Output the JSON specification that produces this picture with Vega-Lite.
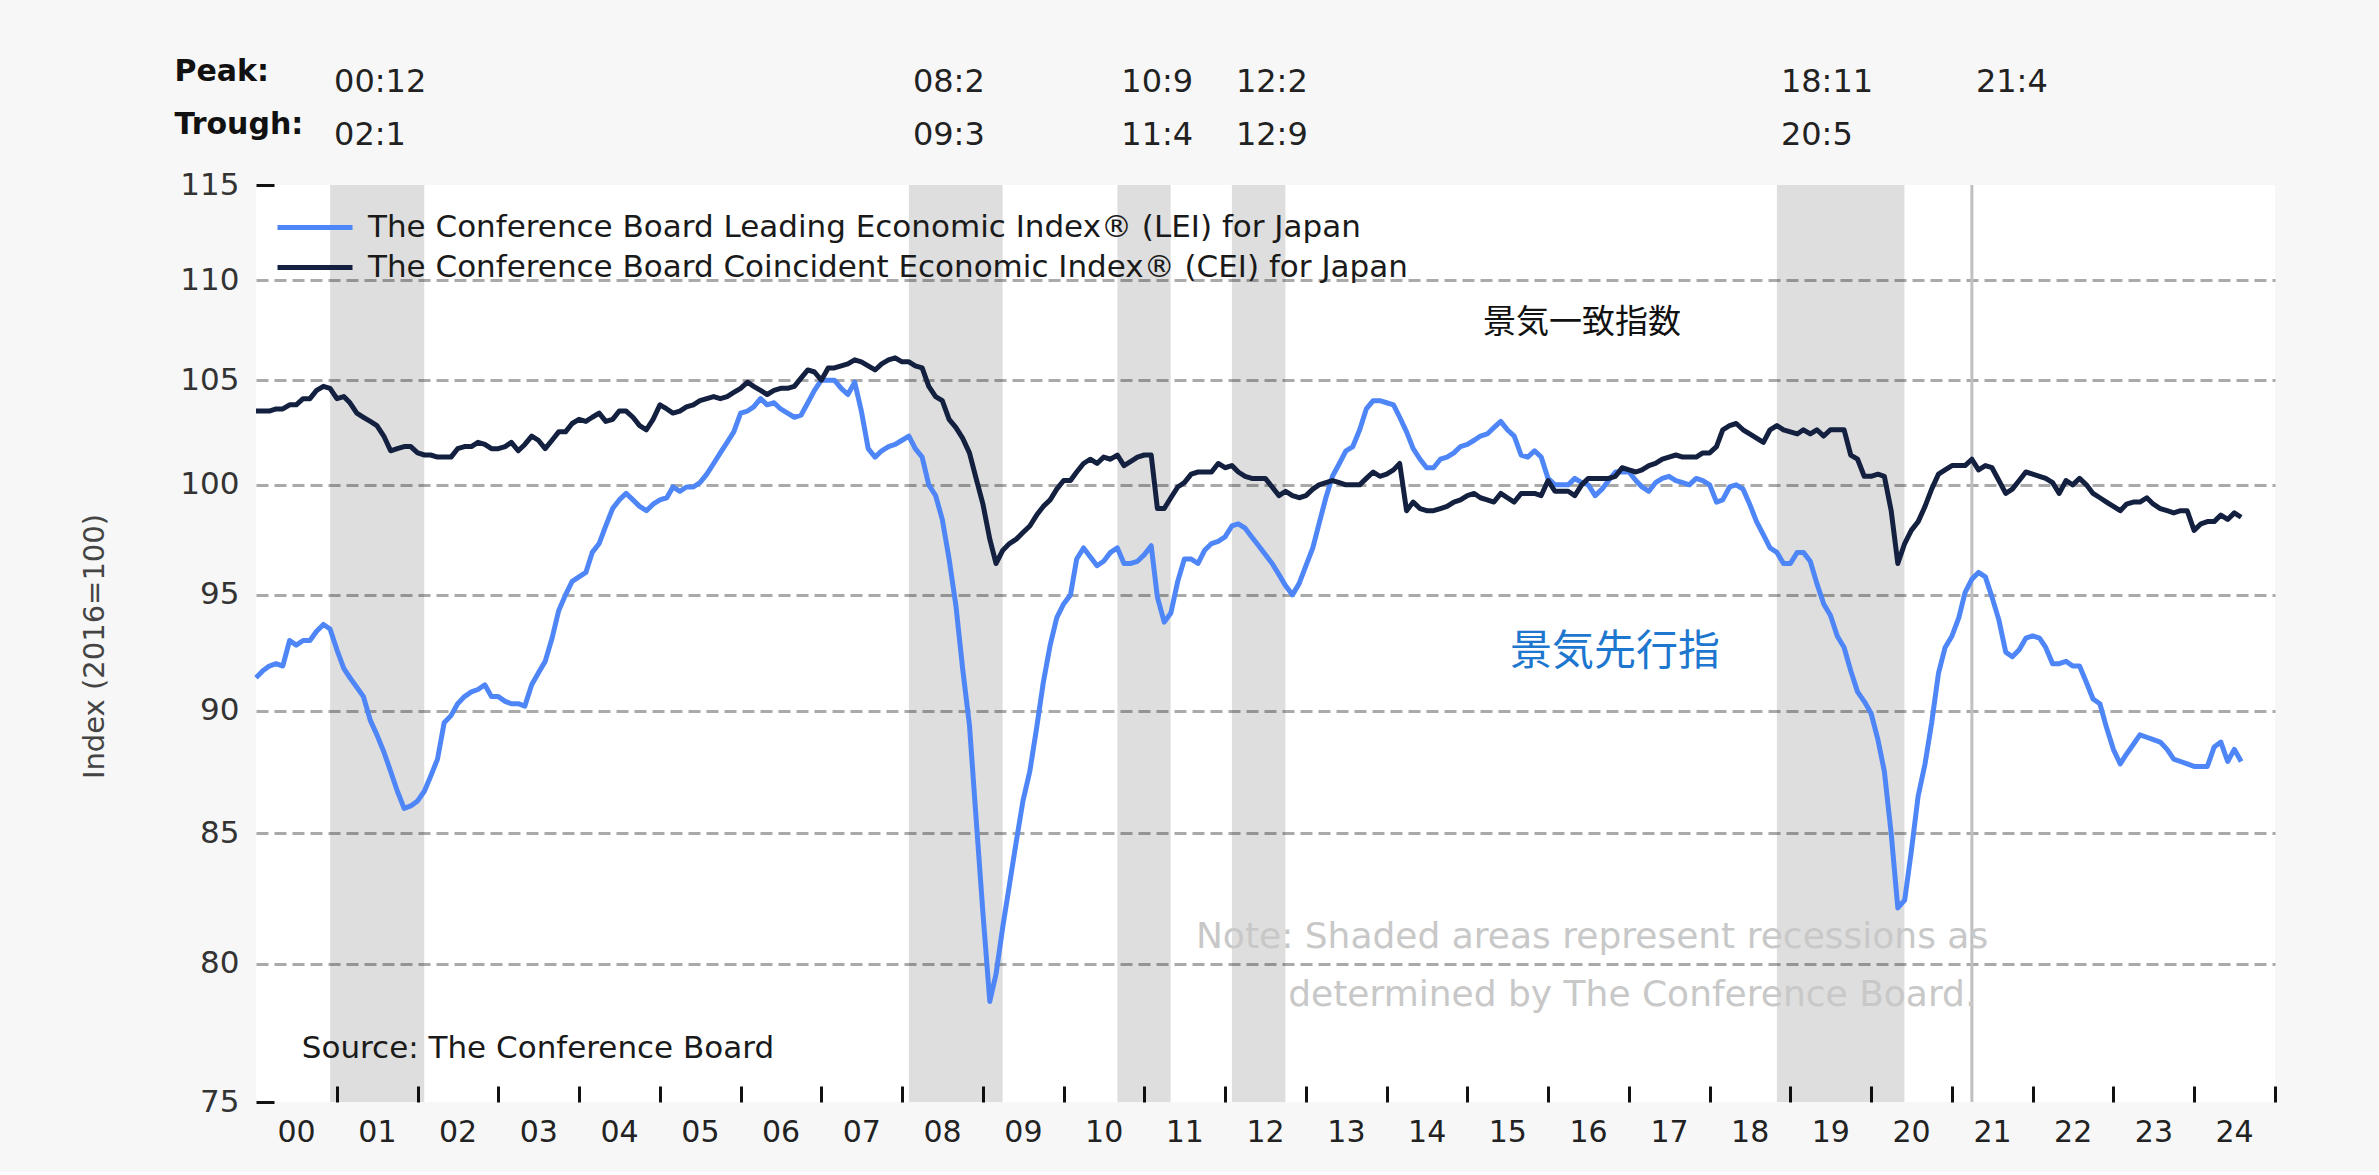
{
  "$schema": "https://vega.github.io/schema/vega-lite/v6.json",
  "background": "#f7f7f7",
  "padding": {"left": 80, "top": 55, "right": 104, "bottom": 25},
  "bounds": "flush",
  "spacing": 24,
  "config": {"font": "DejaVu Sans", "view": {"stroke": null}},
  "datasets": {
    "recessions": [
      {"peak": "2000-12-01", "end": "2002-01-31", "Peak:": "00:12", "Trough:": "02:1"},
      {"peak": "2008-02-01", "end": "2009-03-31", "Peak:": "08:2", "Trough:": "09:3"},
      {"peak": "2010-09-01", "end": "2011-04-30", "Peak:": "10:9", "Trough:": "11:4"},
      {"peak": "2012-02-01", "end": "2012-09-30", "Peak:": "12:2", "Trough:": "12:9"},
      {"peak": "2018-11-01", "end": "2020-05-31", "Peak:": "18:11", "Trough:": "20:5"},
      {"peak": "2021-04-01", "Peak:": "21:4"}
    ],
    "notes": [
      {"k": "cei", "d": "2015-03-13", "v": 107.84, "t": "景気一致指数"},
      {"k": "lei", "d": "2015-07-13", "v": 92.5, "t": "景気先行指"},
      {"k": "src", "d": "2000-07-26", "v": 76.88, "t": "Source: The Conference Board"},
      {"k": "note", "d": "2016-07-18", "v": 81.01, "t": "Note: Shaded areas represent recessions as"},
      {"k": "note", "d": "2017-01-16", "v": 78.84, "t": "determined by The Conference Board."}
    ],
    "indexes": [
      {"d":"2000-01","LEI":91.4,"CEI":103.5},{"d":"2000-02","LEI":91.7,"CEI":103.5},{"d":"2000-03","LEI":91.9,"CEI":103.5},{"d":"2000-04","LEI":92.0,"CEI":103.6},{"d":"2000-05","LEI":91.9,"CEI":103.6},{"d":"2000-06","LEI":93.0,"CEI":103.8},{"d":"2000-07","LEI":92.8,"CEI":103.8},{"d":"2000-08","LEI":93.0,"CEI":104.1},{"d":"2000-09","LEI":93.0,"CEI":104.1},{"d":"2000-10","LEI":93.4,"CEI":104.5},{"d":"2000-11","LEI":93.7,"CEI":104.7},{"d":"2000-12","LEI":93.5,"CEI":104.6},
      {"d":"2001-01","LEI":92.6,"CEI":104.1},{"d":"2001-02","LEI":91.8,"CEI":104.2},{"d":"2001-03","LEI":91.4,"CEI":103.9},{"d":"2001-04","LEI":91.0,"CEI":103.4},{"d":"2001-05","LEI":90.6,"CEI":103.2},{"d":"2001-06","LEI":89.6,"CEI":103.0},{"d":"2001-07","LEI":89.0,"CEI":102.8},{"d":"2001-08","LEI":88.3,"CEI":102.3},{"d":"2001-09","LEI":87.5,"CEI":101.6},{"d":"2001-10","LEI":86.7,"CEI":101.7},{"d":"2001-11","LEI":86.0,"CEI":101.8},{"d":"2001-12","LEI":86.1,"CEI":101.8},
      {"d":"2002-01","LEI":86.3,"CEI":101.5},{"d":"2002-02","LEI":86.7,"CEI":101.4},{"d":"2002-03","LEI":87.3,"CEI":101.4},{"d":"2002-04","LEI":88.0,"CEI":101.3},{"d":"2002-05","LEI":89.5,"CEI":101.3},{"d":"2002-06","LEI":89.8,"CEI":101.3},{"d":"2002-07","LEI":90.3,"CEI":101.7},{"d":"2002-08","LEI":90.6,"CEI":101.8},{"d":"2002-09","LEI":90.8,"CEI":101.8},{"d":"2002-10","LEI":90.9,"CEI":102.0},{"d":"2002-11","LEI":91.1,"CEI":101.9},{"d":"2002-12","LEI":90.6,"CEI":101.7},
      {"d":"2003-01","LEI":90.6,"CEI":101.7},{"d":"2003-02","LEI":90.4,"CEI":101.8},{"d":"2003-03","LEI":90.3,"CEI":102.0},{"d":"2003-04","LEI":90.3,"CEI":101.6},{"d":"2003-05","LEI":90.2,"CEI":101.9},{"d":"2003-06","LEI":91.1,"CEI":102.3},{"d":"2003-07","LEI":91.6,"CEI":102.1},{"d":"2003-08","LEI":92.1,"CEI":101.7},{"d":"2003-09","LEI":93.1,"CEI":102.1},{"d":"2003-10","LEI":94.3,"CEI":102.5},{"d":"2003-11","LEI":95.0,"CEI":102.5},{"d":"2003-12","LEI":95.6,"CEI":102.9},
      {"d":"2004-01","LEI":95.8,"CEI":103.1},{"d":"2004-02","LEI":96.0,"CEI":103.0},{"d":"2004-03","LEI":96.9,"CEI":103.2},{"d":"2004-04","LEI":97.3,"CEI":103.4},{"d":"2004-05","LEI":98.1,"CEI":103.0},{"d":"2004-06","LEI":98.9,"CEI":103.1},{"d":"2004-07","LEI":99.3,"CEI":103.5},{"d":"2004-08","LEI":99.6,"CEI":103.5},{"d":"2004-09","LEI":99.3,"CEI":103.2},{"d":"2004-10","LEI":99.0,"CEI":102.8},{"d":"2004-11","LEI":98.8,"CEI":102.6},{"d":"2004-12","LEI":99.1,"CEI":103.1},
      {"d":"2005-01","LEI":99.3,"CEI":103.8},{"d":"2005-02","LEI":99.4,"CEI":103.6},{"d":"2005-03","LEI":99.9,"CEI":103.4},{"d":"2005-04","LEI":99.7,"CEI":103.5},{"d":"2005-05","LEI":99.9,"CEI":103.7},{"d":"2005-06","LEI":99.9,"CEI":103.8},{"d":"2005-07","LEI":100.1,"CEI":104.0},{"d":"2005-08","LEI":100.5,"CEI":104.1},{"d":"2005-09","LEI":101.0,"CEI":104.2},{"d":"2005-10","LEI":101.5,"CEI":104.1},{"d":"2005-11","LEI":102.0,"CEI":104.2},{"d":"2005-12","LEI":102.5,"CEI":104.4},
      {"d":"2006-01","LEI":103.4,"CEI":104.6},{"d":"2006-02","LEI":103.5,"CEI":104.9},{"d":"2006-03","LEI":103.7,"CEI":104.7},{"d":"2006-04","LEI":104.1,"CEI":104.5},{"d":"2006-05","LEI":103.8,"CEI":104.3},{"d":"2006-06","LEI":103.9,"CEI":104.5},{"d":"2006-07","LEI":103.6,"CEI":104.6},{"d":"2006-08","LEI":103.4,"CEI":104.6},{"d":"2006-09","LEI":103.2,"CEI":104.7},{"d":"2006-10","LEI":103.3,"CEI":105.1},{"d":"2006-11","LEI":103.9,"CEI":105.5},{"d":"2006-12","LEI":104.5,"CEI":105.4},
      {"d":"2007-01","LEI":105.0,"CEI":105.0},{"d":"2007-02","LEI":105.0,"CEI":105.6},{"d":"2007-03","LEI":105.0,"CEI":105.6},{"d":"2007-04","LEI":104.6,"CEI":105.7},{"d":"2007-05","LEI":104.3,"CEI":105.8},{"d":"2007-06","LEI":104.9,"CEI":106.0},{"d":"2007-07","LEI":103.5,"CEI":105.9},{"d":"2007-08","LEI":101.7,"CEI":105.7},{"d":"2007-09","LEI":101.3,"CEI":105.5},{"d":"2007-10","LEI":101.6,"CEI":105.8},{"d":"2007-11","LEI":101.8,"CEI":106.0},{"d":"2007-12","LEI":101.9,"CEI":106.1},
      {"d":"2008-01","LEI":102.1,"CEI":105.9},{"d":"2008-02","LEI":102.3,"CEI":105.9},{"d":"2008-03","LEI":101.7,"CEI":105.7},{"d":"2008-04","LEI":101.3,"CEI":105.6},{"d":"2008-05","LEI":100.0,"CEI":104.7},{"d":"2008-06","LEI":99.5,"CEI":104.2},{"d":"2008-07","LEI":98.4,"CEI":104.0},{"d":"2008-08","LEI":96.6,"CEI":103.1},{"d":"2008-09","LEI":94.5,"CEI":102.7},{"d":"2008-10","LEI":91.8,"CEI":102.2},{"d":"2008-11","LEI":89.4,"CEI":101.5},{"d":"2008-12","LEI":85.6,"CEI":100.3},
      {"d":"2009-01","LEI":81.9,"CEI":99.1},{"d":"2009-02","LEI":78.6,"CEI":97.5},{"d":"2009-03","LEI":79.6,"CEI":96.4},{"d":"2009-04","LEI":81.4,"CEI":97.0},{"d":"2009-05","LEI":83.0,"CEI":97.3},{"d":"2009-06","LEI":84.7,"CEI":97.5},{"d":"2009-07","LEI":86.3,"CEI":97.8},{"d":"2009-08","LEI":87.5,"CEI":98.1},{"d":"2009-09","LEI":89.3,"CEI":98.6},{"d":"2009-10","LEI":91.2,"CEI":99.0},{"d":"2009-11","LEI":92.8,"CEI":99.3},{"d":"2009-12","LEI":94.0,"CEI":99.8},
      {"d":"2010-01","LEI":94.6,"CEI":100.2},{"d":"2010-02","LEI":95.0,"CEI":100.2},{"d":"2010-03","LEI":96.6,"CEI":100.6},{"d":"2010-04","LEI":97.1,"CEI":101.0},{"d":"2010-05","LEI":96.7,"CEI":101.2},{"d":"2010-06","LEI":96.3,"CEI":101.0},{"d":"2010-07","LEI":96.5,"CEI":101.3},{"d":"2010-08","LEI":96.9,"CEI":101.2},{"d":"2010-09","LEI":97.1,"CEI":101.4},{"d":"2010-10","LEI":96.4,"CEI":100.9},{"d":"2010-11","LEI":96.4,"CEI":101.1},{"d":"2010-12","LEI":96.5,"CEI":101.3},
      {"d":"2011-01","LEI":96.8,"CEI":101.4},{"d":"2011-02","LEI":97.2,"CEI":101.4},{"d":"2011-03","LEI":94.9,"CEI":98.9},{"d":"2011-04","LEI":93.8,"CEI":98.9},{"d":"2011-05","LEI":94.2,"CEI":99.4},{"d":"2011-06","LEI":95.6,"CEI":99.9},{"d":"2011-07","LEI":96.6,"CEI":100.1},{"d":"2011-08","LEI":96.6,"CEI":100.5},{"d":"2011-09","LEI":96.4,"CEI":100.6},{"d":"2011-10","LEI":97.0,"CEI":100.6},{"d":"2011-11","LEI":97.3,"CEI":100.6},{"d":"2011-12","LEI":97.4,"CEI":101.0},
      {"d":"2012-01","LEI":97.6,"CEI":100.8},{"d":"2012-02","LEI":98.1,"CEI":100.9},{"d":"2012-03","LEI":98.2,"CEI":100.6},{"d":"2012-04","LEI":98.0,"CEI":100.4},{"d":"2012-05","LEI":97.6,"CEI":100.3},{"d":"2012-06","LEI":97.2,"CEI":100.3},{"d":"2012-07","LEI":96.8,"CEI":100.3},{"d":"2012-08","LEI":96.4,"CEI":99.9},{"d":"2012-09","LEI":95.9,"CEI":99.5},{"d":"2012-10","LEI":95.4,"CEI":99.7},{"d":"2012-11","LEI":95.0,"CEI":99.5},{"d":"2012-12","LEI":95.5,"CEI":99.4},
      {"d":"2013-01","LEI":96.3,"CEI":99.5},{"d":"2013-02","LEI":97.1,"CEI":99.8},{"d":"2013-03","LEI":98.2,"CEI":100.0},{"d":"2013-04","LEI":99.4,"CEI":100.1},{"d":"2013-05","LEI":100.4,"CEI":100.2},{"d":"2013-06","LEI":101.0,"CEI":100.1},{"d":"2013-07","LEI":101.6,"CEI":100.0},{"d":"2013-08","LEI":101.8,"CEI":100.0},{"d":"2013-09","LEI":102.6,"CEI":100.0},{"d":"2013-10","LEI":103.6,"CEI":100.3},{"d":"2013-11","LEI":104.0,"CEI":100.6},{"d":"2013-12","LEI":104.0,"CEI":100.4},
      {"d":"2014-01","LEI":103.9,"CEI":100.5},{"d":"2014-02","LEI":103.8,"CEI":100.7},{"d":"2014-03","LEI":103.2,"CEI":101.0},{"d":"2014-04","LEI":102.5,"CEI":98.8},{"d":"2014-05","LEI":101.7,"CEI":99.2},{"d":"2014-06","LEI":101.2,"CEI":98.9},{"d":"2014-07","LEI":100.8,"CEI":98.8},{"d":"2014-08","LEI":100.8,"CEI":98.8},{"d":"2014-09","LEI":101.2,"CEI":98.9},{"d":"2014-10","LEI":101.3,"CEI":99.0},{"d":"2014-11","LEI":101.5,"CEI":99.2},{"d":"2014-12","LEI":101.8,"CEI":99.3},
      {"d":"2015-01","LEI":101.9,"CEI":99.5},{"d":"2015-02","LEI":102.1,"CEI":99.6},{"d":"2015-03","LEI":102.3,"CEI":99.4},{"d":"2015-04","LEI":102.4,"CEI":99.3},{"d":"2015-05","LEI":102.7,"CEI":99.2},{"d":"2015-06","LEI":103.0,"CEI":99.6},{"d":"2015-07","LEI":102.6,"CEI":99.4},{"d":"2015-08","LEI":102.3,"CEI":99.2},{"d":"2015-09","LEI":101.4,"CEI":99.6},{"d":"2015-10","LEI":101.3,"CEI":99.6},{"d":"2015-11","LEI":101.6,"CEI":99.6},{"d":"2015-12","LEI":101.3,"CEI":99.5},
      {"d":"2016-01","LEI":100.3,"CEI":100.2},{"d":"2016-02","LEI":100.0,"CEI":99.7},{"d":"2016-03","LEI":100.0,"CEI":99.7},{"d":"2016-04","LEI":100.0,"CEI":99.7},{"d":"2016-05","LEI":100.3,"CEI":99.5},{"d":"2016-06","LEI":100.1,"CEI":100.0},{"d":"2016-07","LEI":100.0,"CEI":100.3},{"d":"2016-08","LEI":99.5,"CEI":100.3},{"d":"2016-09","LEI":99.8,"CEI":100.3},{"d":"2016-10","LEI":100.2,"CEI":100.3},{"d":"2016-11","LEI":100.6,"CEI":100.4},{"d":"2016-12","LEI":100.6,"CEI":100.8},
      {"d":"2017-01","LEI":100.6,"CEI":100.7},{"d":"2017-02","LEI":100.2,"CEI":100.6},{"d":"2017-03","LEI":99.9,"CEI":100.7},{"d":"2017-04","LEI":99.7,"CEI":100.9},{"d":"2017-05","LEI":100.1,"CEI":101.0},{"d":"2017-06","LEI":100.3,"CEI":101.2},{"d":"2017-07","LEI":100.4,"CEI":101.3},{"d":"2017-08","LEI":100.2,"CEI":101.4},{"d":"2017-09","LEI":100.1,"CEI":101.3},{"d":"2017-10","LEI":100.0,"CEI":101.3},{"d":"2017-11","LEI":100.3,"CEI":101.3},{"d":"2017-12","LEI":100.2,"CEI":101.5},
      {"d":"2018-01","LEI":100.0,"CEI":101.5},{"d":"2018-02","LEI":99.2,"CEI":101.8},{"d":"2018-03","LEI":99.3,"CEI":102.6},{"d":"2018-04","LEI":99.9,"CEI":102.8},{"d":"2018-05","LEI":100.0,"CEI":102.9},{"d":"2018-06","LEI":99.8,"CEI":102.6},{"d":"2018-07","LEI":99.1,"CEI":102.4},{"d":"2018-08","LEI":98.3,"CEI":102.2},{"d":"2018-09","LEI":97.7,"CEI":102.0},{"d":"2018-10","LEI":97.1,"CEI":102.6},{"d":"2018-11","LEI":96.9,"CEI":102.8},{"d":"2018-12","LEI":96.4,"CEI":102.6},
      {"d":"2019-01","LEI":96.4,"CEI":102.5},{"d":"2019-02","LEI":96.9,"CEI":102.4},{"d":"2019-03","LEI":96.9,"CEI":102.6},{"d":"2019-04","LEI":96.5,"CEI":102.4},{"d":"2019-05","LEI":95.5,"CEI":102.6},{"d":"2019-06","LEI":94.6,"CEI":102.3},{"d":"2019-07","LEI":94.1,"CEI":102.6},{"d":"2019-08","LEI":93.2,"CEI":102.6},{"d":"2019-09","LEI":92.7,"CEI":102.6},{"d":"2019-10","LEI":91.7,"CEI":101.4},{"d":"2019-11","LEI":90.8,"CEI":101.2},{"d":"2019-12","LEI":90.4,"CEI":100.4},
      {"d":"2020-01","LEI":89.9,"CEI":100.4},{"d":"2020-02","LEI":88.8,"CEI":100.5},{"d":"2020-03","LEI":87.5,"CEI":100.4},{"d":"2020-04","LEI":85.0,"CEI":98.8},{"d":"2020-05","LEI":82.1,"CEI":96.4},{"d":"2020-06","LEI":82.4,"CEI":97.3},{"d":"2020-07","LEI":84.3,"CEI":97.9},{"d":"2020-08","LEI":86.5,"CEI":98.3},{"d":"2020-09","LEI":87.8,"CEI":99.0},{"d":"2020-10","LEI":89.5,"CEI":99.8},{"d":"2020-11","LEI":91.6,"CEI":100.5},{"d":"2020-12","LEI":92.7,"CEI":100.7},
      {"d":"2021-01","LEI":93.2,"CEI":100.9},{"d":"2021-02","LEI":94.0,"CEI":100.9},{"d":"2021-03","LEI":95.1,"CEI":100.9},{"d":"2021-04","LEI":95.7,"CEI":101.2},{"d":"2021-05","LEI":96.0,"CEI":100.7},{"d":"2021-06","LEI":95.8,"CEI":100.9},{"d":"2021-07","LEI":94.9,"CEI":100.8},{"d":"2021-08","LEI":93.9,"CEI":100.2},{"d":"2021-09","LEI":92.5,"CEI":99.6},{"d":"2021-10","LEI":92.3,"CEI":99.8},{"d":"2021-11","LEI":92.6,"CEI":100.2},{"d":"2021-12","LEI":93.1,"CEI":100.6},
      {"d":"2022-01","LEI":93.2,"CEI":100.5},{"d":"2022-02","LEI":93.1,"CEI":100.4},{"d":"2022-03","LEI":92.7,"CEI":100.3},{"d":"2022-04","LEI":92.0,"CEI":100.1},{"d":"2022-05","LEI":92.0,"CEI":99.6},{"d":"2022-06","LEI":92.1,"CEI":100.2},{"d":"2022-07","LEI":91.9,"CEI":100.0},{"d":"2022-08","LEI":91.9,"CEI":100.3},{"d":"2022-09","LEI":91.2,"CEI":100.0},{"d":"2022-10","LEI":90.5,"CEI":99.6},{"d":"2022-11","LEI":90.3,"CEI":99.4},{"d":"2022-12","LEI":89.3,"CEI":99.2},
      {"d":"2023-01","LEI":88.4,"CEI":99.0},{"d":"2023-02","LEI":87.8,"CEI":98.8},{"d":"2023-03","LEI":88.2,"CEI":99.1},{"d":"2023-04","LEI":88.6,"CEI":99.2},{"d":"2023-05","LEI":89.0,"CEI":99.2},{"d":"2023-06","LEI":88.9,"CEI":99.4},{"d":"2023-07","LEI":88.8,"CEI":99.1},{"d":"2023-08","LEI":88.7,"CEI":98.9},{"d":"2023-09","LEI":88.4,"CEI":98.8},{"d":"2023-10","LEI":88.0,"CEI":98.7},{"d":"2023-11","LEI":87.9,"CEI":98.8},{"d":"2023-12","LEI":87.8,"CEI":98.8},
      {"d":"2024-01","LEI":87.7,"CEI":97.9},{"d":"2024-02","LEI":87.7,"CEI":98.2},{"d":"2024-03","LEI":87.7,"CEI":98.3},{"d":"2024-04","LEI":88.5,"CEI":98.3},{"d":"2024-05","LEI":88.7,"CEI":98.6},{"d":"2024-06","LEI":87.9,"CEI":98.4},{"d":"2024-07","LEI":88.4,"CEI":98.7},{"d":"2024-08","LEI":87.9,"CEI":98.5}
    ]
  },
  "vconcat": [
    {
      "width": 2019,
      "height": 106,
      "data": {"name": "recessions"},
      "transform": [
        {"fold": ["Peak:", "Trough:"], "as": ["row", "label"]},
        {"filter": "isValid(datum.label)"}
      ],
      "mark": {"type": "text", "align": "left", "baseline": "middle", "dx": 4, "fontSize": 32, "font": "DejaVu Sans", "color": "#222222"},
      "encoding": {
        "x": {"field": "peak", "type": "temporal", "scale": {"type": "utc", "domain": [{"year": 2000, "month": 1, "date": 1, "utc": true}, {"year": 2025, "month": 1, "date": 1, "utc": true}]}, "axis": null},
        "y": {"field": "row", "type": "nominal", "scale": {"domain": ["Peak:", "Trough:"]}, "axis": {"title": null, "domain": false, "ticks": false, "grid": false, "labelAlign": "left", "labelBaseline": "middle", "labelPadding": 82, "labelFontSize": 30, "labelFontWeight": "bold", "labelColor": "#111111", "labelOffset": -10, "labelFont": "DejaVu Sans", "labelLimit": 400}},
        "text": {"field": "label", "type": "nominal"}
      }
    },
    {
      "width": 2019,
      "height": 917,
      "view": {"fill": "white", "stroke": null},
      "layer": [
        {
          "data": {"name": "recessions"},
          "transform": [{"filter": "isValid(datum.end)"}],
          "mark": {"type": "rect", "color": "#000000", "opacity": 0.13},
          "encoding": {
            "x": {"field": "peak", "type": "temporal", "title": null, "scale": {"type": "utc", "domain": [{"year": 2000, "month": 1, "date": 1, "utc": true}, {"year": 2025, "month": 1, "date": 1, "utc": true}]}},
            "x2": {"field": "end"}
          }
        },
        {
          "data": {"name": "recessions"},
          "transform": [{"filter": "!isValid(datum.end)"}],
          "mark": {"type": "rule", "color": "#c0c0c0", "strokeWidth": 3},
          "encoding": {
            "x": {"field": "peak", "type": "temporal", "title": null, "scale": {"type": "utc", "domain": [{"year": 2000, "month": 1, "date": 1, "utc": true}, {"year": 2025, "month": 1, "date": 1, "utc": true}]}}
          }
        },
        {
          "data": {"name": "indexes"},
          "transform": [{"fold": ["LEI", "CEI"], "as": ["series", "value"]}],
          "mark": {"type": "line", "strokeWidth": 5, "strokeJoin": "round"},
          "encoding": {
            "x": {
              "field": "d", "type": "temporal", "title": null,
              "scale": {"type": "utc", "domain": [{"year": 2000, "month": 1, "date": 1, "utc": true}, {"year": 2025, "month": 1, "date": 1, "utc": true}]},
              "axis": {
                "title": null,
                "tickCount": {"interval": "year", "step": 1},
                "labelExpr": "utcyear(datum.value) > 2024 ? '' : utcFormat(datum.value, '%y')",
                "labelOffset": 40,
                "labelFlush": false,
                "labelOverlap": false,
                "labelBound": false,
                "labelFontSize": 30,
                "labelFont": "DejaVu Sans",
                "labelColor": "#222222",
                "labelPadding": 31,
                "tickSize": -16,
                "tickWidth": 3,
                "tickColor": "#111111",
                "tickOpacity": {"condition": {"test": "utcyear(datum.value) == 2000", "value": 0}, "value": 1},
                "domain": false,
                "grid": false
              }
            },
            "y": {
              "field": "value", "type": "quantitative",
              "scale": {"type": "log", "domain": [75, 115], "nice": false, "zero": false},
              "axis": {
                "title": "Index (2016=100)",
                "values": [75, 80, 85, 90, 95, 100, 105, 110, 115],
                "format": "d",
                "labelFontSize": 31,
                "labelFont": "DejaVu Sans",
                "labelColor": "#333333",
                "labelPadding": 35,
                "tickSize": -18,
                "tickWidth": 3,
                "tickColor": "#111111",
                "tickOpacity": {"condition": {"test": "datum.value == 75 || datum.value == 115", "value": 1}, "value": 0},
                "domain": false,
                "grid": true,
                "gridColor": "#aaaaaa",
                "gridDash": [12, 6],
                "gridWidth": 3,
                "gridOpacity": {"condition": {"test": "datum.value == 75 || datum.value == 115", "value": 0}, "value": 1},
                "titleX": -162,
                "titleY": 461,
                "titleAngle": -90,
                "titleAlign": "center",
                "titleBaseline": "middle",
                "titleFontSize": 29,
                "titleFontWeight": "normal",
                "titleFont": "DejaVu Sans",
                "titleColor": "#444444"
              }
            },
            "color": {
              "field": "series", "type": "nominal",
              "scale": {"domain": ["LEI", "CEI"], "range": ["#4f86f7", "#13203f"]},
              "legend": {
                "title": null,
                "orient": "none",
                "legendX": 41.5,
                "legendY": 25,
                "direction": "vertical",
                "padding": 0,
                "symbolType": "M-2.5,0H2.5",
                "symbolSize": 900,
                "symbolStrokeWidth": 5,
                "labelFontSize": 31,
                "labelFont": "DejaVu Sans",
                "labelColor": "#1a1a1a",
                "labelOffset": 35.5,
                "labelLimit": 1500,
                "rowPadding": 7,
                "labelExpr": "datum.label == 'LEI' ? 'The Conference Board Leading Economic Index® (LEI) for Japan' : 'The Conference Board Coincident Economic Index® (CEI) for Japan'"
              }
            }
          }
        },
        {
          "data": {"name": "notes"},
          "transform": [{"filter": "datum.k == 'cei'"}],
          "mark": {"type": "text", "align": "left", "baseline": "middle", "font": "Noto Sans CJK JP", "fontSize": 33, "color": "#111111"},
          "encoding": {
            "x": {"field": "d", "type": "temporal", "title": null, "scale": {"type": "utc", "domain": [{"year": 2000, "month": 1, "date": 1, "utc": true}, {"year": 2025, "month": 1, "date": 1, "utc": true}]}},
            "y": {"field": "v", "type": "quantitative", "title": "Index (2016=100)", "scale": {"type": "log", "domain": [75, 115], "nice": false, "zero": false}},
            "text": {"field": "t", "type": "nominal"}
          }
        },
        {
          "data": {"name": "notes"},
          "transform": [{"filter": "datum.k == 'lei'"}],
          "mark": {"type": "text", "align": "left", "baseline": "middle", "font": "Noto Sans CJK JP", "fontSize": 42, "color": "#1e77cf"},
          "encoding": {
            "x": {"field": "d", "type": "temporal", "title": null, "scale": {"type": "utc", "domain": [{"year": 2000, "month": 1, "date": 1, "utc": true}, {"year": 2025, "month": 1, "date": 1, "utc": true}]}},
            "y": {"field": "v", "type": "quantitative", "title": "Index (2016=100)", "scale": {"type": "log", "domain": [75, 115], "nice": false, "zero": false}},
            "text": {"field": "t", "type": "nominal"}
          }
        },
        {
          "data": {"name": "notes"},
          "transform": [{"filter": "datum.k == 'src'"}],
          "mark": {"type": "text", "align": "left", "baseline": "middle", "font": "DejaVu Sans", "fontSize": 31, "color": "#1a1a1a"},
          "encoding": {
            "x": {"field": "d", "type": "temporal", "title": null, "scale": {"type": "utc", "domain": [{"year": 2000, "month": 1, "date": 1, "utc": true}, {"year": 2025, "month": 1, "date": 1, "utc": true}]}},
            "y": {"field": "v", "type": "quantitative", "title": "Index (2016=100)", "scale": {"type": "log", "domain": [75, 115], "nice": false, "zero": false}},
            "text": {"field": "t", "type": "nominal"}
          }
        },
        {
          "data": {"name": "notes"},
          "transform": [{"filter": "datum.k == 'note'"}],
          "mark": {"type": "text", "align": "center", "baseline": "middle", "font": "DejaVu Sans", "fontSize": 36, "color": "#c8c8c8"},
          "encoding": {
            "x": {"field": "d", "type": "temporal", "title": null, "scale": {"type": "utc", "domain": [{"year": 2000, "month": 1, "date": 1, "utc": true}, {"year": 2025, "month": 1, "date": 1, "utc": true}]}},
            "y": {"field": "v", "type": "quantitative", "title": "Index (2016=100)", "scale": {"type": "log", "domain": [75, 115], "nice": false, "zero": false}},
            "text": {"field": "t", "type": "nominal"}
          }
        }
      ]
    }
  ],
  "resolve": {"scale": {"x": "independent", "y": "independent", "color": "independent"}, "legend": {"color": "independent"}}
}
